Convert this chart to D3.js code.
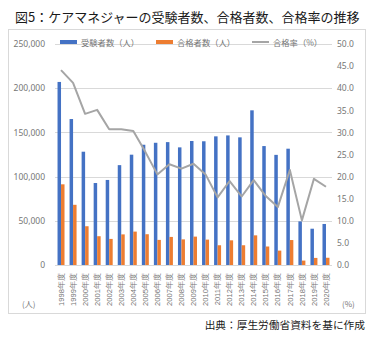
<!DOCTYPE html>
<html><head><meta charset="utf-8">
<script src="https://cdn.jsdelivr.net/npm/d3@7/dist/d3.min.js"></script>
<style>
body{margin:0;background:#fff;}
svg{display:block;font-family:"Noto Sans CJK JP","Noto Sans",sans-serif;}
</style></head>
<body><svg id="c" width="379" height="340"></svg>
<script>
const years = ["1998年度","1999年度","2000年度","2001年度","2002年度","2003年度","2004年度","2005年度","2006年度","2007年度","2008年度","2009年度","2010年度","2011年度","2012年度","2013年度","2014年度","2015年度","2016年度","2017年度","2018年度","2019年度","2020年度"];
const examinees = [207080,165117,128153,92735,96207,112961,124791,136030,138262,139006,133072,140277,139959,145529,146586,144397,174974,134539,124585,131560,49332,41049,46415];
const passers = [91269,68090,43854,32560,29508,34634,37781,34813,28391,31758,28992,32113,28703,22332,27905,22331,33539,20924,16281,28233,4990,8018,8200];
const passRate = [44.1,41.2,34.2,35.1,30.7,30.7,30.3,25.6,20.5,22.8,21.8,22.9,20.5,15.3,19.0,15.5,19.2,15.6,13.1,21.5,10.1,19.5,17.7];
const leftTicks = [0,50000,100000,150000,200000,250000];
const rightTicks = [0,5,10,15,20,25,30,35,40,45,50];
const legendLabels = ["受験者数（人）","合格者数（人）","合格率（%）"];
const title = "図5：ケアマネジャーの受験者数、合格者数、合格率の推移";
const source = "出典：厚生労働省資料を基に作成";

const svg = d3.select("#c");
const L = 55, R = 332, T = 44, B = 265;
const blue = "#4472C4", orange = "#ED7D31", gray = "#A5A5A5";

svg.append("rect").attr("x",8.5).attr("y",29.5).attr("width",357).attr("height",284)
  .attr("fill","#fff").attr("stroke","#d9d9d9").attr("stroke-width",1);

svg.append("text").attr("x",15).attr("y",22).attr("font-size",13).attr("fill","#1a1a1a").text(title);

const x = d3.scaleBand().domain(years).range([L,R]).paddingInner(0.42).paddingOuter(0.21);
const xs = d3.scaleBand().domain(["a","b"]).range([0,x.bandwidth()]);
const yL = d3.scaleLinear().domain([0,250000]).range([B,T]);
const yR = d3.scaleLinear().domain([0,50]).range([B,T]);

// gridlines
svg.append("g").selectAll("line").data(leftTicks.slice(1)).join("line")
  .attr("x1",L).attr("x2",R).attr("y1",d=>Math.round(yL(d))+0.5).attr("y2",d=>Math.round(yL(d))+0.5)
  .attr("stroke","#d9d9d9").attr("stroke-width",1);

// left axis
const axL = svg.append("g").attr("transform",`translate(${L},0)`)
  .call(d3.axisLeft(yL).tickValues(leftTicks).tickFormat(d3.format(",")).tickSize(0).tickPadding(10));
axL.select(".domain").remove();
axL.selectAll("text").attr("font-size",8.5).attr("fill","#767676").attr("font-family","'Noto Sans',sans-serif");

// right axis
const axR = svg.append("g").attr("transform",`translate(${R},0)`)
  .call(d3.axisRight(yR).tickValues(rightTicks).tickFormat(d3.format(".1f")).tickSize(0).tickPadding(5));
axR.select(".domain").remove();
axR.selectAll("text").attr("font-size",8.5).attr("fill","#767676").attr("font-family","'Noto Sans',sans-serif");

// bars
svg.append("g").selectAll("rect").data(years).join("rect")
  .attr("x",d=>x(d)+xs("a")).attr("width",xs.bandwidth())
  .attr("y",(d,i)=>yL(examinees[i])).attr("height",(d,i)=>B-yL(examinees[i])).attr("fill",blue);
svg.append("g").selectAll("rect").data(years).join("rect")
  .attr("x",d=>x(d)+xs("b")).attr("width",xs.bandwidth())
  .attr("y",(d,i)=>yL(passers[i])).attr("height",(d,i)=>B-yL(passers[i])).attr("fill",orange);

// baseline
svg.append("line").attr("x1",L).attr("x2",R).attr("y1",B+0.5).attr("y2",B+0.5).attr("stroke","#d9d9d9");

// line
const line = d3.line().x((d,i)=>x(years[i])+x.bandwidth()/2).y(d=>yR(d));
svg.append("path").datum(passRate).attr("d",line).attr("fill","none")
  .attr("stroke",gray).attr("stroke-width",2).attr("stroke-linejoin","round");

// x labels
const axB = svg.append("g").attr("transform",`translate(0,${B})`)
  .call(d3.axisBottom(x).tickSize(0).tickPadding(0));
axB.select(".domain").remove();
axB.selectAll("text").attr("font-size",7.6).attr("fill","#767676")
  .attr("transform","rotate(-90)").attr("text-anchor","end")
  .attr("x",-8).attr("y",0).attr("dy","0.35em");

// unit labels
svg.append("text").attr("x",22).attr("y",307).attr("font-size",8).attr("fill","#767676").text("(人)");
svg.append("text").attr("x",342).attr("y",307).attr("font-size",8).attr("fill","#767676").text("(%)");

// legend
const lg = svg.append("g");
const lx = [60,156,252];
lg.append("rect").attr("x",lx[0]).attr("y",40).attr("width",17).attr("height",4).attr("fill",blue);
lg.append("rect").attr("x",lx[1]).attr("y",40).attr("width",17).attr("height",4).attr("fill",orange);
lg.append("line").attr("x1",lx[2]).attr("x2",lx[2]+17).attr("y1",42).attr("y2",42).attr("stroke",gray).attr("stroke-width",2);
lg.selectAll("text").data(legendLabels).join("text")
  .attr("x",(d,i)=>lx[i]+21).attr("y",45.5).attr("font-size",8.3).attr("fill","#767676").text(d=>d);

svg.append("text").attr("x",365).attr("y",329).attr("text-anchor","end").attr("font-size",10.7).attr("fill","#1a1a1a").text(source);
</script></body></html>
